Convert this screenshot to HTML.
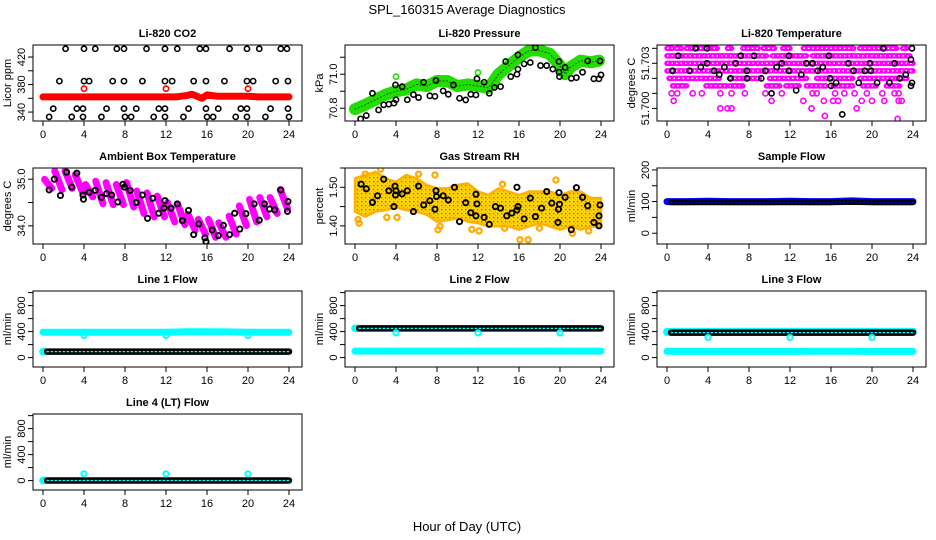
<!DOCTYPE html>
<html><head><meta charset="utf-8"><title>SPL_160315 Average Diagnostics</title>
<style>
html,body{margin:0;padding:0;background:#fff;}
svg{display:block;font-family:"Liberation Sans",Arial,sans-serif;}
</style></head>
<body>
<svg id="chart" width="936" height="540" viewBox="0 0 936 540" xmlns="http://www.w3.org/2000/svg">
<defs>
<pattern id="rhpat" width="4" height="4" patternUnits="userSpaceOnUse">
<rect width="4" height="4" fill="#ffd400"/><rect x="1" y="1" width="1.3" height="1.3" fill="#ff3300"/><rect x="3" y="3" width="1" height="1" fill="#ff9900"/>
</pattern>
</defs>
<text x="467" y="14" font-size="13" text-anchor="middle">SPL_160315  Average Diagnostics</text>
<text x="467" y="531" font-size="13" text-anchor="middle">Hour of Day (UTC)</text>
</svg>
<script>
// ---------- Li-820 CO2 ----------
const co2BandH=[0,1,2,3,4,5,6,7,8,9,10,11,12,13,13.5,14,14.5,15,15.5,16,16.5,17,18,19,20,21,22,23,24];
const co2BandV=[362,362,362,362,362,362,362,362,362,362,362,362,362,362,363,364,366,363,360,365,364,363,363,363,363,362,362,362,362];
const co2BlackH=[2.2,4.0,5.1,7.2,7.9,10.1,11.9,13.1,15.3,15.9,18.2,19.9,21.1,23.2,23.8,
 1.6,4.0,4.5,6.8,7.9,9.7,11.9,12.6,14.7,15.9,17.7,19.9,20.5,22.7,23.9,
 1.0,3.3,3.9,6.2,7.9,9.1,11.3,11.9,14.2,15.9,17.1,19.3,19.9,22.2,23.9,
 0.6,2.8,3.9,5.7,8.0,8.6,10.8,11.9,13.7,16.0,16.6,18.8,19.9,21.7,24.0];
const co2BlackV=[432,432,432,432,432,432,432,432,432,432,432,432,432,432,432,
 385,385,385,385,385,385,385,385,385,385,385,385,385,385,385,
 345,345,345,345,345,345,345,345,345,345,345,345,345,345,345,
 333,333,333,333,333,333,333,333,333,333,333,333,333,333,333];
const co2RedH=[4,12,20];
const co2RedV=[374,374,374];

// ---------- Li-820 Pressure ----------
const presBandH=[0,1,2,3,4,5,6,7,8,9,10,11,12,13,13.3,14,15,16,17,18,19,20,20.5,21,22,23,23.8];
const presBandV=[70.795,70.82,70.85,70.88,70.90,70.91,70.94,70.93,70.96,70.96,70.93,70.94,70.93,70.92,70.94,71.00,71.05,71.10,71.14,71.14,71.12,71.05,71.00,71.04,71.08,71.07,71.08];
const presGreenH=[4.0,12.0];
const presGreenV=[70.986,71.01];
const presBlackH=[0.55,1.1,1.7,2.3,2.8,3.3,3.8,4.0,3.95,4.6,5.1,5.7,6.2,6.7,7.3,7.8,7.9,8.6,9.1,9.6,10.2,10.8,11.3,11.8,11.9,12.6,13.1,13.6,14.2,14.7,15.2,15.8,15.9,15.9,16.5,17.1,17.6,18.1,18.7,19.3,19.9,19.9,19.95,20.5,21.1,21.6,22.2,22.7,23.3,23.8,23.9,24.0];
const presBlackV=[70.737,70.757,70.888,70.79,70.82,70.824,70.83,70.85,70.937,70.927,70.85,70.88,70.863,70.953,70.873,70.87,70.963,70.902,70.882,70.937,70.859,70.849,70.882,70.878,70.973,70.953,70.888,70.922,70.927,71.075,70.986,71.0,71.03,71.114,71.061,71.069,71.157,71.051,71.051,71.03,71.012,71.075,70.986,71.04,70.976,70.98,71.012,71.078,70.973,70.973,71.078,70.996];

// ---------- Li-820 Temperature ----------
const tSegLevel=[51.7040,51.7040,51.7040,51.7040,51.7040,51.7040,51.7040,51.7040,51.7040,51.7040,51.7040,
 51.7035,51.7035,51.7035, 51.7030, 51.7025,
 51.7020,51.7020,51.7020,51.7020,51.7020,
 51.7015,51.7015,51.7015,51.7015,51.7015,51.7015,51.7015,51.7015,51.7015];
const tSegStart=[0,0.9,1.9,5.9,7.4,9.4,11.3,13.3,18.8,21.1,23.0, 0,10.3,14.2, 0, 0, 0.2,6.1,10.0,14.6,18.8, 0.55,3.8,6.1,9.7,11.6,13.6,16.2,19.1,21.4];
const tSegEnd=[0.55,1.4,4.9,6.3,8.9,10.5,12.0,18.2,20.8,22.4,23.4, 9.7,13.6,23.7, 24, 24, 5.1,9.0,13.6,18.1,23.4, 1.9,5.8,7.4,11.0,12.9,15.5,18.1,20.4,22.7];
const tPinkH=[0.45,1.0,2.5,3.4,5.2,6.3,7.6,9.6,11.2,14.2,14.6,16.4,17.3,18.3,19.5,21.0,22.2,22.6,
 0.65,10.2,13.3,15.3,16.2,16.7,19.0,20.0,21.2,22.6,22.9, 5.2,5.9,6.3,14.1,18.5, 15.4,22.5];
const tPinkV=[51.7010,51.7010,51.7010,51.7010,51.7010,51.7010,51.7010,51.7010,51.7010,51.7010,51.7010,51.7010,51.7010,51.7010,51.7010,51.7010,51.7010,51.7010,
 51.7005,51.7005,51.7005,51.7005,51.7005,51.7005,51.7005,51.7005,51.7005,51.7005,51.7005, 51.7000,51.7000,51.7000,51.7000,51.7000, 51.6995,51.6993];
const tBlackH=[0.55,1.1,2.2,2.8,3.3,3.9,3.9,4.6,5.1,5.6,6.2,6.7,7.2,7.8,7.8,8.5,9.2,9.6,10.2,10.7,11.2,11.9,11.9,12.6,13.1,13.6,14.2,14.7,15.2,15.8,15.9,16.0,16.5,17.1,17.7,18.2,18.7,19.3,19.8,19.9,20.5,21.1,21.7,22.2,22.7,23.3,23.8,23.9,23.9,23.8];
const tBlackV=[51.7025,51.7035,51.7025,51.7040,51.70275,51.7040,51.7030,51.7025,51.70225,51.70275,51.7020,51.7030,51.7035,51.7025,51.7020,51.7035,51.7020,51.7025,51.7010,51.70275,51.7030,51.7035,51.7025,51.7012,51.70225,51.7030,51.7030,51.7025,51.70275,51.7035,51.7020,51.7015,51.7017,51.6996,51.7030,51.7025,51.7017,51.7025,51.7030,51.7025,51.7017,51.7040,51.7017,51.7030,51.7020,51.70225,51.70325,51.7040,51.7017,51.7015];

// ---------- Ambient Box Temperature ----------
const ambHour=[0,1,2,3,4,5,6,7,8,9,10,11,12,13,14,15,16,17,18,19,20,21,22,23];
const ambHi=[35.06,35.24,35.24,35.16,34.95,35.02,34.99,34.95,34.99,34.81,34.77,34.70,34.56,34.52,34.31,34.20,34.20,34.13,34.27,34.49,34.63,34.67,34.67,34.84];
const ambLo=[34.74,34.71,34.74,34.66,34.56,34.41,34.39,34.39,34.34,34.20,34.13,34.13,34.02,33.96,33.84,33.76,33.69,33.69,33.76,33.94,34.02,34.13,34.20,34.31];
const ambBlackH=[0.6,1.1,1.7,2.3,2.8,3.3,3.9,3.95,4.5,5.1,5.7,6.2,6.7,7.3,7.8,7.95,8.5,9.1,9.7,10.2,10.7,11.3,11.8,11.9,12.5,13.1,13.6,14.2,14.7,15.2,15.8,15.9,16.5,17.1,17.6,18.2,18.7,19.2,19.8,20.6,21.1,21.6,22.1,22.6,23.2,23.9,23.85];
const ambBlackV=[34.77,35.0,34.65,35.15,34.83,35.13,34.66,34.57,34.72,34.76,34.61,34.69,34.66,34.51,34.89,34.83,34.76,34.5,34.66,34.16,34.59,34.27,34.38,34.54,34.38,34.47,34.11,34.33,33.81,34.04,33.74,33.66,33.91,33.79,34.01,33.81,34.27,33.93,34.26,34.47,34.12,34.47,34.36,34.34,34.77,34.52,34.31];

// ---------- Gas Stream RH ----------
const rhHour=[0,1,2,3,4,5,6,7,8,9,10,11,12,13,14,15,16,17,18,19,20,21,22,23,24];
const rhHi=[1.523,1.532,1.54,1.523,1.514,1.532,1.523,1.506,1.497,1.497,1.506,1.51,1.489,1.48,1.497,1.489,1.48,1.489,1.489,1.489,1.48,1.489,1.489,1.472,1.472];
const rhLo=[1.437,1.424,1.437,1.441,1.448,1.441,1.437,1.429,1.411,1.415,1.42,1.411,1.407,1.399,1.399,1.399,1.39,1.399,1.407,1.399,1.39,1.399,1.39,1.398,1.398];
const rhOrangeH=[1.0,2.5,6.2,7.8,0.3,0.4,3.1,4.1,8.1,8.3,11.4,12.1,14.4,14.6,16.1,16.9,18.0,19.6,21.2,22.8];
const rhOrangeV=[1.534,1.547,1.534,1.532,1.416,1.407,1.422,1.422,1.39,1.399,1.391,1.387,1.508,1.394,1.364,1.364,1.394,1.519,1.381,1.387];
const rhBlackH=[0.6,1.1,1.7,2.2,2.8,3.3,3.8,3.9,3.95,4.0,4.6,5.1,5.7,6.2,6.7,7.3,7.8,7.9,7.95,8.6,9.1,9.7,10.2,10.8,11.3,11.8,11.8,11.9,12.6,13.1,13.7,14.2,14.8,15.3,15.8,15.9,15.8,16.5,17.1,17.6,18.2,18.7,19.2,19.8,19.85,19.95,19.9,20.5,21.1,21.6,22.2,22.7,23.3,23.8,23.8,23.9];
const rhBlackV=[1.508,1.496,1.461,1.478,1.521,1.491,1.45,1.503,1.48,1.491,1.483,1.491,1.437,1.503,1.454,1.465,1.443,1.491,1.476,1.478,1.467,1.5,1.411,1.46,1.434,1.426,1.482,1.457,1.422,1.404,1.45,1.446,1.426,1.433,1.441,1.45,1.5,1.418,1.472,1.424,1.446,1.489,1.459,1.409,1.443,1.456,1.486,1.474,1.39,1.499,1.474,1.452,1.409,1.40,1.426,1.454];

// ---------- Sample Flow ----------
const sfHour=[0,2,4,6,8,10,12,14,16,18,20,22,24];
const sfBlue=[100,100,101,100,100,100,101,100,100,102,100,100,100];
const sfBlackHour=[0.4,2,4,6,8,10,12,14,16,18,20,22,24];
const sfBlack=[98,98,98,98,98,98,98,98,98,99,98,98,98];

// ---------- Line flows ----------
const flowHour=[0,2,4,6,8,10,12,14,16,18,20,22,24];
const flowBlackHour=[0.4,2,4,6,8,10,12,14,16,18,20,22,24];
const dipHour=[4,12,20];
const startHour=[0,0.2];
const l1Cyan=[390,390,390,390,390,390,390,398,398,395,390,390,390];
const l1Black=[92,92,92,92,92,92,92,92,92,92,92,92,92];
const l1Start=[90,90];
const l1Dip=[340,340,340];
const l2CyanLow=[100,100,100,100,100,100,100,100,100,100,100,100,100];
const l2Black=[450,450,450,450,450,450,450,450,450,450,450,450,450];
const l2Start=[450,450];
const l2Dip=[380,380,380];
const l3CyanHigh=[395,395,395,395,398,398,398,398,398,398,395,395,395];
const l3CyanLow=[95,95,95,95,95,95,95,97,97,97,95,95,95];
const l3Black=[385,385,385,385,385,385,385,385,385,385,385,385,385];
const l3Start=[390,390];
const l3Dip=[310,310,310];
const l4Black=[2,2,2,2,2,2,2,2,2,2,2,2,2];
const l4Start=[2,2];
const l4Out=[104,104,104];

const NS='http://www.w3.org/2000/svg';
const svg=document.getElementById('chart');
function mk(tag,attrs,parent){const e=document.createElementNS(NS,tag);for(const k in attrs)e.setAttribute(k,attrs[k]);(parent||svg).appendChild(e);return e;}
let clipN=0;

function panel(c,r,ymin,ymax,ticks,labels,title,ylab,key){
  const x0=33+312*c,x1=302+312*c,y0=45+123*r,y1=121+123*r;
  const P={x0,x1,y0,y1,xs:h=>43+312*c+h*10.25,ys:v=>y1-(v-ymin)/(ymax-ymin)*(y1-y0)};
  const g=mk('g',{});
  
  
  const t=mk('text',{x:(x0+x1)/2,y:y0-8,'font-size':11,'font-weight':'bold','text-anchor':'middle'},g);
  t.textContent=title;
  
  
  const yl=mk('text',{x:0,y:0,'font-size':11,'text-anchor':'middle',transform:`translate(${x0-22},${(y0+y1)/2}) rotate(-90)`},g);
  yl.textContent=ylab;
  
  
  const xa=mk('g',{},g);
  
  
  for(let h=0;h<=24;h+=4){
    mk('line',{x1:P.xs(h),x2:P.xs(h),y1:y1,y2:y1+5,stroke:'#000'},xa);
    const tl=mk('text',{x:P.xs(h),y:y1+17,'font-size':11,'text-anchor':'middle'},xa);
    tl.textContent=String(h);
    
    
  }
  const ya=mk('g',{},g);
  
  
  const yt=ticks.map(P.ys);
  mk('line',{x1:x0,x2:x0,y1:Math.min(...yt),y2:Math.max(...yt),stroke:'#000'},ya);
  ticks.forEach(v=>{mk('line',{x1:x0-5,x2:x0,y1:P.ys(v),y2:P.ys(v),stroke:'#000'},ya);});
  labels.forEach(l=>{
    const tl=mk('text',{x:0,y:0,'font-size':11,'text-anchor':'middle',transform:`translate(${x0-8},${P.ys(l.v)}) rotate(-90)`},ya);
    tl.textContent=l.s;
    
    
  });
  const id='clip'+(clipN++);
  const cp=mk('clipPath',{id},g);
  mk('rect',{x:x0,y:y0,width:x1-x0,height:y1-y0},cp);
  P.plot=mk('g',{'clip-path':`url(#${id})`},g);
  
  
  P.box=()=>{const b=mk('rect',{x:x0,y:y0,width:x1-x0,height:y1-y0,fill:'none',stroke:'#000'},g);
    
    };
  return P;
}
function pts(P,H,V,color,name,sw){
  const g=mk('g',{fill:'none',stroke:color,'stroke-width':sw||1.6},P.plot);
  
  
  H.forEach((h,i)=>{const c=mk('circle',{cx:P.xs(h),cy:P.ys(V[i]),r:2.6},g);
    
    });
}
function band(P,H,V,color,width,name,dash){
  const d=H.map((h,i)=>`${P.xs(h).toFixed(1)},${P.ys(V[i]).toFixed(1)}`).join(' ');
  const pl=mk('polyline',{points:d,fill:'none',stroke:color,'stroke-width':width,'stroke-linecap':'round','stroke-linejoin':'round'},P.plot);
  if(dash)pl.setAttribute('stroke-dasharray',dash);
  
  
}
function area(P,H,hi,lo,fill,name){
  const up=H.map((h,i)=>`${P.xs(h).toFixed(1)},${P.ys(hi[i]).toFixed(1)}`);
  const dn=H.map((h,i)=>`${P.xs(h).toFixed(1)},${P.ys(lo[i]).toFixed(1)}`).reverse();
  const pg=mk('polygon',{points:up.concat(dn).join(' '),fill,stroke:'#ffb000','stroke-width':2.5,'stroke-linejoin':'round'},P.plot);
  
  
}

// Panel 1
let P=panel(0,0,327,437.5,[340,360,380,400,420],[{v:340,s:'340'},{v:380,s:'380'},{v:420,s:'420'}],'Li-820 CO2','Licor ppm','co2');
band(P,co2BandH,co2BandV,'#ff0000',7,'co2-red-band');
pts(P,co2RedH,co2RedV,'#ff0000','co2-red-outliers');
pts(P,co2BlackH,co2BlackV,'#000','co2-black-points');
P.box();
// Panel 2
P=panel(1,0,70.725,71.172,[70.8,70.9,71.0,71.1],[{v:70.8,s:'70.8'},{v:71.0,s:'71.0'}],'Li-820 Pressure','kPa','pressure');
band(P,presBandH,presBandV,'#22dd00',12,'pressure-green-band');
band(P,presBandH,presBandV,'#0a5a00',1,'pressure-band-texture','1 2.5');
pts(P,presGreenH,presGreenV,'#22dd00','pressure-green-outliers');
pts(P,presBlackH,presBlackV,'#000','pressure-black-points');
P.box();
// Panel 3
P=panel(2,0,51.69916,51.70422,[51.700,51.701,51.702,51.703,51.704],[{v:51.700,s:'51.700'},{v:51.703,s:'51.703'}],'Li-820 Temperature','degrees C','temperature');
tSegLevel.forEach((lv,i)=>{
  const ln=mk('line',{x1:P.xs(tSegStart[i]),x2:P.xs(tSegEnd[i]),y1:P.ys(lv),y2:P.ys(lv),stroke:'#ff00ff','stroke-width':5.5,'stroke-linecap':'round'},P.plot);
  
  
  const hl=mk('line',{x1:P.xs(tSegStart[i]),x2:P.xs(tSegEnd[i]),y1:P.ys(lv),y2:P.ys(lv),stroke:'#ffffff','stroke-width':1.4,'stroke-dasharray':'1.5 3'},P.plot);
  
  
});
pts(P,tPinkH,tPinkV,'#ff00ff','temperature-pink-points');
pts(P,tBlackH,tBlackV,'#000','temperature-black-points');
P.box();
// Panel 4
P=panel(0,1,33.61,35.24,[34.0,34.5,35.0],[{v:34.0,s:'34.0'},{v:35.0,s:'35.0'}],'Ambient Box Temperature','degrees C','ambient');
ambHour.forEach((h,i)=>{
  const ln=mk('line',{x1:P.xs(h+0.15),y1:P.ys(ambHi[i])+3,x2:P.xs(h+0.85),y2:P.ys(ambLo[i])-3,stroke:'#ff00ff','stroke-width':7,'stroke-linecap':'round'},P.plot);
  
  
});
pts(P,ambBlackH,ambBlackV,'#000','ambient-black-points',1.9);
P.box();
// Panel 5
P=panel(1,1,1.353,1.55,[1.40,1.45,1.50,1.55],[{v:1.40,s:'1.40'},{v:1.50,s:'1.50'}],'Gas Stream RH','percent','rh');
area(P,rhHour,rhHi,rhLo,'url(#rhpat)','rh-orange-band');
pts(P,rhOrangeH,rhOrangeV,'#ffaa00','rh-orange-points',2.2);
pts(P,rhBlackH,rhBlackV,'#000','rh-black-points',1.9);
P.box();
// Panel 6
P=panel(2,1,-34,206,[0,50,100,150,200],[{v:0,s:'0'},{v:100,s:'100'},{v:200,s:'200'}],'Sample Flow','ml/min','sample-flow');
band(P,sfHour,sfBlue,'#0000ff',7,'sample-flow-blue-band');
band(P,sfBlackHour,sfBlack,'#000',6,'sample-flow-black-band');
band(P,sfBlackHour,sfBlack,'#0000ff',1.2,'sample-flow-band-texture','1.5 2.5');
P.box();
// Flow panels
const fT=[0,200,400,600,800,1000], fL=[{v:0,s:'0'},{v:400,s:'400'},{v:800,s:'800'}];
P=panel(0,2,-145,1025,fT,fL,'Line 1 Flow','ml/min','line1');
band(P,flowHour,l1Cyan,'#00ffff',7,'line1-cyan-band');
pts(P,startHour,l1Start,'#00ffff','line1-cyan-start',2.4);
band(P,flowBlackHour,l1Black,'#000',6.5,'line1-black-band');
band(P,flowBlackHour,l1Black,'#00ffff',1.3,'line1-band-texture','1.5 2.5');
pts(P,dipHour,l1Dip,'#00ffff','line1-cyan-dips',2);
P.box();
P=panel(1,2,-145,1025,fT,fL,'Line 2 Flow','ml/min','line2');
band(P,flowHour,l2CyanLow,'#00ffff',7,'line2-cyan-band');
pts(P,startHour,l2Start,'#00ffff','line2-cyan-start',2.4);
band(P,flowBlackHour,l2Black,'#000',6.5,'line2-black-band');
band(P,flowBlackHour,l2Black,'#00ffff',1.3,'line2-band-texture','1.5 2.5');
pts(P,dipHour,l2Dip,'#00ffff','line2-cyan-dips',2);
P.box();
P=panel(2,2,-145,1025,fT,fL,'Line 3 Flow','ml/min','line3');
band(P,flowHour,l3CyanHigh,'#00ffff',8,'line3-cyan-high-band');
band(P,flowHour,l3CyanLow,'#00ffff',7,'line3-cyan-low-band');
pts(P,startHour,l3Start,'#00ffff','line3-cyan-start',2.4);
band(P,flowBlackHour,l3Black,'#000',6.5,'line3-black-band');
band(P,flowBlackHour,l3Black,'#00ffff',1.3,'line3-band-texture','1.5 2.5');
pts(P,dipHour,l3Dip,'#00ffff','line3-cyan-dips',2);
P.box();
P=panel(0,3,-145,1025,fT,fL,'Line 4 (LT) Flow','ml/min','line4');
pts(P,startHour,l4Start,'#00ffff','line4-cyan-start',2.4);
band(P,flowBlackHour,l4Black,'#000',6.5,'line4-black-band');
band(P,flowBlackHour,l4Black,'#00ffff',1.3,'line4-band-texture','1.5 2.5');
pts(P,dipHour,l4Out,'#00ffff','line4-cyan-outliers',2);
P.box();
</script>
</body></html>
